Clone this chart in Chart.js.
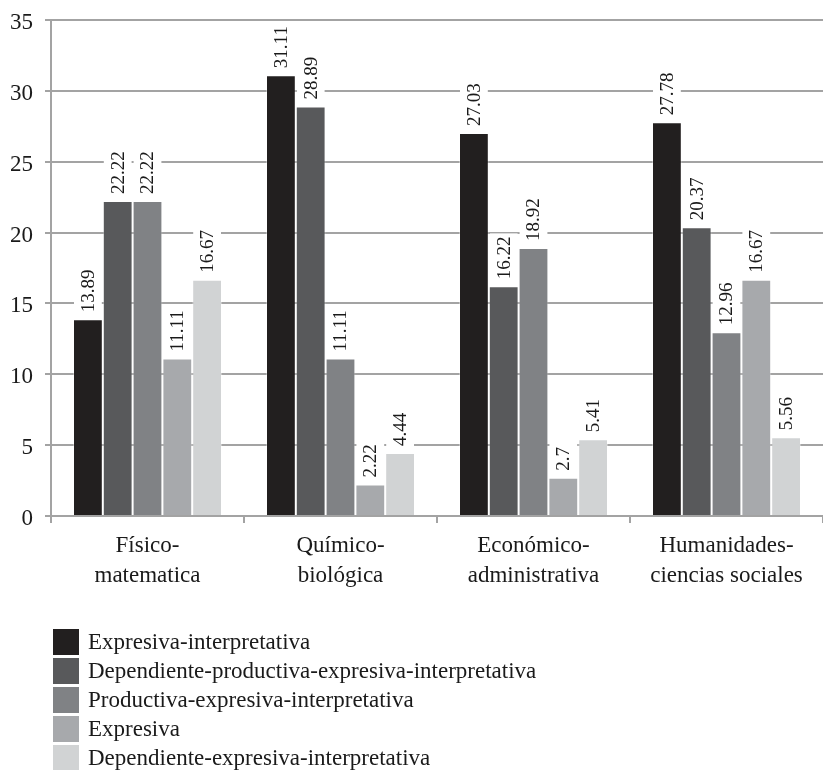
<!DOCTYPE html>
<html>
<head>
<meta charset="utf-8">
<script src="https://cdn.jsdelivr.net/npm/chart.js@4.4.1/dist/chart.umd.min.js"></script>
<style>
  html, body { margin: 0; padding: 0; background: #ffffff; }
  #wrap { width: 823px; height: 770px; }
</style>
</head>
<body>
<div id="wrap"><canvas id="chart" width="823" height="770"></canvas></div>
<script>
// Categories (two-line labels) and the five series, in percent
const categories = [
  ['Físico-', 'matematica'],
  ['Químico-', 'biológica'],
  ['Económico-', 'administrativa'],
  ['Humanidades-', 'ciencias sociales']
];
const seriesNames = [
  'Expresiva-interpretativa',
  'Dependiente-productiva-expresiva-interpretativa',
  'Productiva-expresiva-interpretativa',
  'Expresiva',
  'Dependiente-expresiva-interpretativa'
];
const expresivaInterpretativa = [13.89, 31.11, 27.03, 27.78];
const dependienteProductiva = [22.22, 28.89, 16.22, 20.37];
const productivaExpresiva = [22.22, 11.11, 18.92, 12.96];
const expresiva = [11.11, 2.22, 2.7, 16.67];
const dependienteExpresiva = [16.67, 4.44, 5.41, 5.56];
const seriesColors = ['#221f1f', '#58595b', '#808285', '#a7a9ac', '#d1d3d4'];
const yTicks = [0, 5, 10, 15, 20, 25, 30, 35];

const seriesValues = [
  expresivaInterpretativa,
  dependienteProductiva,
  productivaExpresiva,
  expresiva,
  dependienteExpresiva
];

const FONT = "'Liberation Serif', 'DejaVu Serif', serif";
const AXIS_GRAY = '#a3a3a3';

// Rotated value labels above each bar, on a white backing that hides gridlines
const valueLabels = {
  id: 'valueLabels',
  afterDatasetsDraw(chart) {
    const ctx = chart.ctx;
    ctx.save();
    ctx.font = '19px ' + FONT;
    chart.data.datasets.forEach((ds, di) => {
      const meta = chart.getDatasetMeta(di);
      meta.data.forEach((bar, i) => {
        const txt = String(ds.data[i]);
        const w = ctx.measureText(txt).width;
        const gap = 7;
        const half = bar.width / 2;
        ctx.fillStyle = '#ffffff';
        ctx.fillRect(bar.x - half + 1, bar.y - gap - w - 3, bar.width - 2, w + gap + 2);
        ctx.save();
        ctx.translate(bar.x, bar.y - gap);
        ctx.rotate(-Math.PI / 2);
        ctx.fillStyle = '#1a1a1a';
        ctx.textAlign = 'left';
        ctx.textBaseline = 'middle';
        ctx.fillText(txt, 0, 1);
        ctx.restore();
      });
    });
    ctx.restore();
  }
};

// Vertical legend in the lower-left corner
const stackedLegend = {
  id: 'stackedLegend',
  afterDraw(chart) {
    const ctx = chart.ctx;
    ctx.save();
    ctx.font = '23px ' + FONT;
    ctx.textBaseline = 'middle';
    ctx.textAlign = 'left';
    chart.data.datasets.forEach((ds, i) => {
      const cy = 642 + i * 29;
      ctx.fillStyle = ds.backgroundColor;
      ctx.fillRect(53, cy - 13, 26, 26);
      ctx.fillStyle = '#1a1a1a';
      ctx.fillText(ds.label, 88, cy + 1);
    });
    ctx.restore();
  }
};

new Chart(document.getElementById('chart'), {
  type: 'bar',
  data: {
    labels: categories,
    datasets: seriesNames.map((name, i) => ({
      label: name,
      data: seriesValues[i],
      backgroundColor: seriesColors[i],
      borderColor: 'rgba(255,255,255,0.35)',
      borderWidth: 1,
      categoryPercentage: 0.772,
      barPercentage: 1.0
    }))
  },
  options: {
    responsive: false,
    animation: false,
    layout: { padding: { top: 20, right: 0, bottom: 0, left: 0 } },
    plugins: {
      legend: { display: false },
      tooltip: { enabled: false }
    },
    scales: {
      x: {
        afterFit(scale) { scale.height = 254; },
        grid: {
          display: true,
          drawOnChartArea: false,
          drawTicks: true,
          tickLength: 7,
          color: AXIS_GRAY,
          lineWidth: 2,
          offset: true
        },
        border: { display: true, color: AXIS_GRAY, width: 2 },
        ticks: {
          color: '#1a1a1a',
          font: { family: FONT, size: 23, lineHeight: 1.3 },
          padding: 8,
          maxRotation: 0,
          autoSkip: false
        }
      },
      y: {
        min: 0,
        max: 35,
        afterFit(scale) {
          scale.width = 51;
          scale.paddingTop = 0;
          scale.paddingBottom = 0;
        },
        afterBuildTicks(scale) { scale.ticks = yTicks.map(v => ({ value: v })); },
        grid: {
          color: AXIS_GRAY,
          lineWidth: 2,
          tickLength: 6,
          drawTicks: true
        },
        border: { display: true, color: AXIS_GRAY, width: 2 },
        ticks: {
          color: '#1a1a1a',
          font: { family: FONT, size: 23 },
          padding: 12,
          labelOffset: 3
        }
      }
    }
  },
  plugins: [valueLabels, stackedLegend]
});
</script>
</body>
</html>
